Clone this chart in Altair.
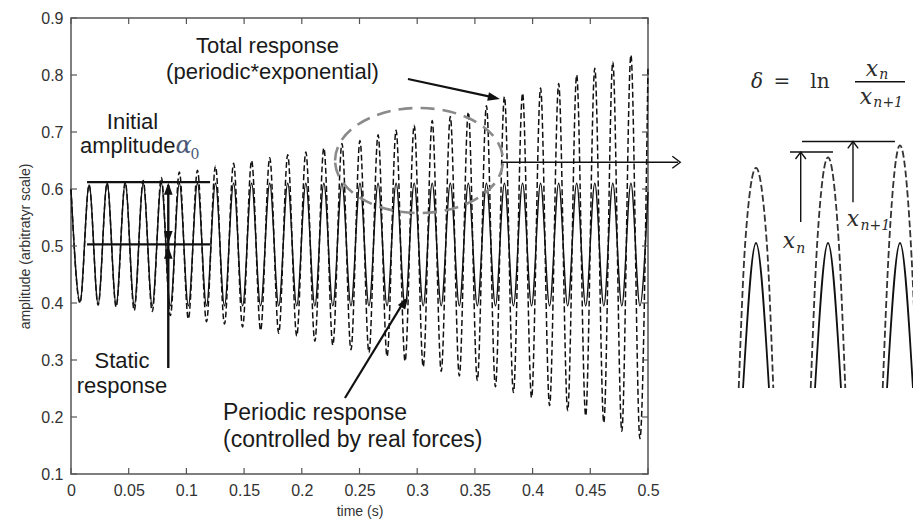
import altair as alt
import pandas as pd

# ---------------- values ----------------
x_ticks = [0, 0.05, 0.1, 0.15, 0.2, 0.25, 0.3, 0.35, 0.4, 0.45, 0.5]
y_ticks = [0.1, 0.2, 0.3, 0.4, 0.5, 0.6, 0.7, 0.8, 0.9]

# times of the crests and troughs (s)
peak_t = [0.0, 0.0157, 0.0313, 0.0470, 0.0626, 0.0783, 0.0939, 0.1096, 0.1252, 0.1409,
          0.1565, 0.1722, 0.1878, 0.2035, 0.2191, 0.2348, 0.2504, 0.2661, 0.2817, 0.2974,
          0.3130, 0.3287, 0.3443, 0.3600, 0.3756, 0.3913, 0.4069, 0.4226, 0.4382, 0.4539,
          0.4695, 0.4852]
trough_t = [0.0078, 0.0235, 0.0391, 0.0548, 0.0704, 0.0861, 0.1017, 0.1174, 0.1330, 0.1487,
            0.1643, 0.1800, 0.1956, 0.2113, 0.2269, 0.2426, 0.2582, 0.2739, 0.2895, 0.3052,
            0.3208, 0.3365, 0.3521, 0.3678, 0.3834, 0.3991, 0.4147, 0.4304, 0.4460, 0.4617,
            0.4773, 0.4930]

# periodic response (solid)
peak_periodic = [0.600, 0.607, 0.610, 0.610, 0.610, 0.610, 0.610, 0.610, 0.610, 0.610,
                 0.610, 0.610, 0.610, 0.610, 0.610, 0.610, 0.610, 0.610, 0.610, 0.610,
                 0.610, 0.610, 0.610, 0.610, 0.610, 0.610, 0.610, 0.610, 0.610, 0.610,
                 0.610, 0.610]
trough_periodic = [0.402, 0.398, 0.397, 0.396, 0.395, 0.395, 0.395, 0.395, 0.395, 0.395,
                   0.395, 0.395, 0.395, 0.395, 0.395, 0.395, 0.395, 0.395, 0.395, 0.395,
                   0.395, 0.395, 0.395, 0.395, 0.395, 0.395, 0.395, 0.395, 0.395, 0.395,
                   0.395, 0.395]

# total response (dashed)
peak_total = [0.600, 0.607, 0.610, 0.612, 0.615, 0.620, 0.630, 0.633, 0.640, 0.645,
              0.650, 0.655, 0.660, 0.665, 0.672, 0.680, 0.685, 0.695, 0.703, 0.712,
              0.720, 0.727, 0.735, 0.746, 0.762, 0.768, 0.777, 0.785, 0.800, 0.812,
              0.823, 0.835]
trough_total = [0.400, 0.396, 0.393, 0.387, 0.385, 0.378, 0.372, 0.367, 0.363, 0.358,
                0.352, 0.347, 0.342, 0.333, 0.326, 0.318, 0.313, 0.306, 0.298, 0.288,
                0.280, 0.272, 0.264, 0.253, 0.243, 0.234, 0.220, 0.211, 0.202, 0.190,
                0.175, 0.162]
end_t = 0.5
end_periodic = 0.595
end_total = 0.815

# inset: three successive crests (x in cycles, y in amplitude)
inset_peak_x = [0, 1, 2]
inset_total_top = [0.667, 0.675, 0.684]
inset_periodic_top = [0.610, 0.610, 0.610]
inset_cut = 0.5
inset_total_halfbase = 0.24
inset_total_halfshoulder = 0.15
inset_periodic_halfbase = 0.18

# ---------------- tables ----------------
def curve(ts, vs):
    return pd.DataFrame({"t": ts, "v": vs}).sort_values("t")

periodic_df = curve(peak_t + trough_t + [end_t], peak_periodic + trough_periodic + [end_periodic])
total_df = curve(peak_t + trough_t + [end_t], peak_total + trough_total + [end_total])

FONT = "Liberation Sans"
SERIF = "DejaVu Serif"
INK = "#111111"
AX = "#555555"

xs = alt.Scale(domain=[0, 0.5], nice=False, zero=False)
ys = alt.Scale(domain=[0.1, 0.9], nice=False, zero=False)
X = alt.X("t:Q", scale=xs, axis=alt.Axis(values=x_ticks, format="~g", title="time (s)", grid=False,
                                          ticks=False, domain=False, labelFontSize=16, labelColor="#333",
                                          labelFont=FONT, labelPadding=8, labelFlush=False,
                                          titleFont=FONT, titleFontSize=14, titleFontWeight="normal",
                                          titleColor="#333", titlePadding=6))
Y = alt.Y("v:Q", scale=ys, axis=alt.Axis(values=y_ticks, format="~g", title="amplitude (arbitratyr scale)",
                                          grid=False, ticks=False, domain=False, labelFontSize=16,
                                          labelColor="#333", labelFont=FONT, labelPadding=8, labelFlush=False,
                                          titleFont=FONT, titleFontSize=14, titleFontWeight="normal",
                                          titleColor="#333", titlePadding=8))

periodic_line = alt.Chart(periodic_df).mark_line(interpolate="monotone", color=INK, strokeWidth=1.4).encode(x=X, y=Y)
total_line = alt.Chart(total_df).mark_line(interpolate="monotone", color=INK, strokeWidth=1.5,
                                           strokeDash=[6, 3]).encode(x=X, y=Y)

# inward ticks (matlab style box)
xt = pd.DataFrame({"t": x_ticks})
yt = pd.DataFrame({"v": y_ticks})
tick_style = dict(color=AX, strokeWidth=1.2)
ticks = [
    alt.Chart(xt).mark_rule(**tick_style).encode(x=X, y=alt.value(456), y2=alt.value(450)),
    alt.Chart(xt).mark_rule(**tick_style).encode(x=X, y=alt.value(0), y2=alt.value(6)),
    alt.Chart(yt).mark_rule(**tick_style).encode(y=Y, x=alt.value(0), x2=alt.value(6)),
    alt.Chart(yt).mark_rule(**tick_style).encode(y=Y, x=alt.value(577), x2=alt.value(571)),
]

# annotation segments (data units)
seg = pd.DataFrame({
    "t":  [0.0139, 0.0139, 0.0843, 0.2920, 0.2374, 0.3736],
    "v":  [0.612, 0.503, 0.286, 0.793, 0.2333, 0.647],
    "t2": [0.1205, 0.1205, 0.0843, 0.3680, 0.2895, 0.5260],
    "v2": [0.612, 0.503, 0.607, 0.760, 0.4060, 0.647],
    "w":  [2.2, 2.2, 2.4, 2.2, 2.2, 1.4],
})
segments = alt.Chart(seg).mark_rule(color=INK).encode(
    x=X, y=Y, x2=alt.X2("t2:Q"), y2=alt.Y2("v2:Q"), strokeWidth=alt.StrokeWidth("w:Q", scale=None))

heads = pd.DataFrame({
    "t": [0.3717, 0.2920, 0.0843, 0.0843, 0.0843],
    "v": [0.758, 0.4105, 0.611, 0.505, 0.499],
    "ang": [102, 32, 0, 180, 0],
})
TRI = "M 0 0 L -0.5 1.4 L 0.5 1.4 Z"
arrowheads = alt.Chart(heads).mark_point(shape=TRI, filled=True, color=INK, size=300, opacity=1).encode(
    x=X, y=Y, angle=alt.Angle("ang:Q", scale=None))

CHEV = "M -0.6 0.8 L 0 0 L 0.6 0.8"
chev_main = pd.DataFrame({"t": [0.528], "v": [0.647], "ang": [90]})
chevron_main = alt.Chart(chev_main).mark_point(shape=CHEV, filled=False, color=INK, strokeWidth=1.4,
                                               size=400, opacity=1).encode(
    x=X, y=Y, angle=alt.Angle("ang:Q", scale=None))

ell = pd.DataFrame({"t": [0.3016], "v": [0.650]})
ELLIPSE = "M -1 0 A 1 0.625 0 1 1 1 0 A 1 0.625 0 1 1 -1 0 Z"
ellipse = alt.Chart(ell).mark_point(shape=ELLIPSE, filled=False, color="#8a8a8a", strokeWidth=2.6,
                                    strokeDash=[14, 8], size=28224, opacity=1).encode(x=X, y=Y)

def text_layer(labels, ts, vs, **props):
    df = pd.DataFrame({"t": ts, "v": vs, "label": labels})
    base = dict(font=FONT, fontSize=23, color="#1a1a1a", baseline="alphabetic")
    base.update(props)
    return alt.Chart(df).mark_text(**base).encode(x=X, y=Y, text="label:N")

texts = [
    text_layer(["Total response", "(periodic*exponential)"],
               [0.1703, 0.1746], [0.838, 0.793], align="center", fontSize=22),
    text_layer(["Initial", "Static", "response"],
               [0.0533, 0.0442, 0.0442], [0.7045, 0.2855, 0.2425], align="center", fontSize=22),
    text_layer(["amplitude"], [0.0078], [0.6625], align="left", fontSize=22),
    text_layer(["Periodic response", "(controlled by real forces)"],
               [0.1317, 0.1317], [0.1947, 0.1474], align="left"),
    text_layer(["α"], [0.0975], [0.6625], align="center", font=SERIF, fontStyle="italic",
               fontSize=24, color="#4a5878"),
    text_layer(["0"], [0.1075], [0.653], align="center", font=SERIF, fontSize=14, color="#4a5878"),
]

main = alt.layer(periodic_line, total_line, *ticks, segments, arrowheads, chevron_main, ellipse, *texts)

# ---------------- inset ----------------
IX = alt.X("ix:Q", scale=alt.Scale(domain=[0, 2], range=[685, 829], nice=False, zero=False), axis=None)
IY = alt.Y("iv:Q", scale=alt.Scale(domain=[0.5, 0.61], range=[370, 225], nice=False, zero=False), axis=None)

rows_total, rows_per = [], []
for k, (c, top, ptop) in enumerate(zip(inset_peak_x, inset_total_top, inset_periodic_top)):
    for dx, v in [(-inset_total_halfbase, inset_cut), (-inset_total_halfshoulder, ptop), (0, top),
                  (inset_total_halfshoulder, ptop), (inset_total_halfbase, inset_cut)]:
        rows_total.append({"ix": c + dx, "iv": v, "k": k})
    for dx, v in [(-inset_periodic_halfbase, inset_cut), (0, ptop), (inset_periodic_halfbase, inset_cut)]:
        rows_per.append({"ix": c + dx, "iv": v, "k": k})

inset_total = alt.Chart(pd.DataFrame(rows_total)).mark_line(
    interpolate="monotone", color="#333", strokeWidth=1.8, strokeDash=[7, 3]).encode(x=IX, y=IY, detail="k:N")
inset_per = alt.Chart(pd.DataFrame(rows_per)).mark_line(
    interpolate="monotone", color="#111", strokeWidth=1.8).encode(x=IX, y=IY, detail="k:N")

iseg = pd.DataFrame({
    "ix":  [0.639, 0.472, 0.621, 1.347, 1.375],
    "iv":  [0.687, 0.679, 0.626, 0.641, 0.7323],
    "ix2": [1.930, 1.070, 0.621, 1.347, 2.069],
    "iv2": [0.687, 0.679, 0.679, 0.687, 0.7323],
})
inset_segments = alt.Chart(iseg).mark_rule(color=INK, strokeWidth=1.4).encode(
    x=IX, y=IY, x2=alt.X2("ix2:Q"), y2=alt.Y2("iv2:Q"))
ichev = pd.DataFrame({"ix": [0.621, 1.347], "iv": [0.679, 0.687], "ang": [0, 0]})
inset_chev = alt.Chart(ichev).mark_point(shape=CHEV, filled=False, color=INK, strokeWidth=1.4,
                                         size=300, opacity=1).encode(
    x=IX, y=IY, angle=alt.Angle("ang:Q", scale=None))

def itext(labels, xs_, vs_, **props):
    df = pd.DataFrame({"ix": xs_, "iv": vs_, "label": labels})
    base = dict(font=SERIF, fontSize=20, color="#2b2b2b", baseline="alphabetic", align="center")
    base.update(props)
    return alt.Chart(df).mark_text(**base).encode(x=IX, y=IY, text="label:N")

inset_texts = [
    itext(["x", "x", "x", "x"], [0.458, 1.347, 1.611, 1.528], [0.606, 0.623, 0.7368, 0.7155],
          fontStyle="italic", fontSize=22),
    itext(["n", "n+1", "n", "n+1"], [0.560, 1.450, 1.712, 1.630], [0.6025, 0.6195, 0.7345, 0.7128],
          fontStyle="italic", fontSize=14, align="left"),
    itext(["δ"], [0.014], [0.7277], fontStyle="italic"),
    itext(["=", "ln"], [0.361, 0.889], [0.7277, 0.7277]),
]

inset = alt.layer(inset_total, inset_per, inset_segments, inset_chev, *inset_texts)

chart = alt.layer(main, inset).resolve_scale(x="independent", y="independent").properties(
    width=577, height=456,
    padding={"left": 71, "top": 18, "right": 265, "bottom": 49},
    autosize=alt.AutoSizeParams(type="none"),
    background="white",
).configure_view(stroke=AX, strokeWidth=1.5)

chart.save("out.html", embed_options={"renderer": "svg", "actions": False})
